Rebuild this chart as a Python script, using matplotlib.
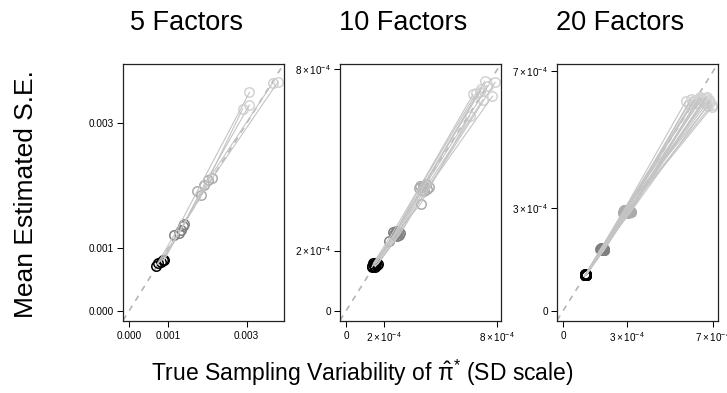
import matplotlib
matplotlib.use("Agg")
import matplotlib.pyplot as plt
from matplotlib.ticker import FixedLocator, FixedFormatter

plt.rcParams['font.family'] = ['Liberation Sans', 'DejaVu Sans']
plt.rcParams['mathtext.fontset'] = 'custom'
plt.rcParams['mathtext.rm'] = 'Liberation Sans'
plt.rcParams['mathtext.it'] = 'Liberation Sans:italic'
plt.rcParams['mathtext.bf'] = 'Liberation Sans:bold'
plt.rcParams['mathtext.sf'] = 'Liberation Sans'

# ---------------- data ----------------
titles = ["5 Factors", "10 Factors", "20 Factors"]
level_colors = ["#d3d3d3", "#ababab", "#808080", "#000000"]  # smallest n -> largest n

# Panel 1 (5 factors): true SD (x) and mean estimated SE (y), per sample-size level
p1_x_l1 = [0.00307, 0.00290, 0.00307, 0.00366, 0.00380]
p1_x_l2 = [0.00174, 0.00183, 0.00191, 0.00202, 0.00212]
p1_x_l3 = [0.00115, 0.00128, 0.00132, 0.00137, 0.00140]
p1_x_l4 = [0.00069, 0.00075, 0.00082, 0.00088, 0.00090]
p1_y_l1 = [0.00349, 0.00323, 0.00329, 0.00364, 0.00366]
p1_y_l2 = [0.00191, 0.00185, 0.00201, 0.00209, 0.00212]
p1_y_l3 = [0.00121, 0.00125, 0.00130, 0.00135, 0.00139]
p1_y_l4 = [0.00072, 0.00076, 0.00079, 0.00081, 0.00082]

# Panel 2 (10 factors)
p2_x_l1 = [7.33e-4, 7.88e-4, 6.89e-4, 7.24e-4, 7.74e-4, 6.54e-4, 6.72e-4, 7.16e-4, 7.50e-4, 7.07e-4]
p2_x_l2 = [4.05e-4, 4.38e-4, 3.88e-4, 4.12e-4, 4.30e-4, 3.95e-4, 3.92e-4, 4.08e-4, 4.22e-4, 4.00e-4]
p2_x_l3 = [2.62e-4, 2.88e-4, 2.55e-4, 2.70e-4, 2.82e-4, 2.30e-4, 2.50e-4, 2.65e-4, 2.76e-4, 2.58e-4]
p2_x_l4 = [1.48e-4, 1.68e-4, 1.40e-4, 1.55e-4, 1.62e-4, 1.36e-4, 1.45e-4, 1.52e-4, 1.60e-4, 1.50e-4]
p2_y_l1 = [7.60e-4, 7.57e-4, 7.22e-4, 7.00e-4, 7.11e-4, 6.46e-4, 7.17e-4, 7.35e-4, 7.44e-4, 7.26e-4]
p2_y_l2 = [4.10e-4, 4.12e-4, 4.06e-4, 3.98e-4, 4.05e-4, 3.55e-4, 4.13e-4, 4.15e-4, 4.20e-4, 4.02e-4]
p2_y_l3 = [2.60e-4, 2.58e-4, 2.55e-4, 2.48e-4, 2.52e-4, 2.31e-4, 2.62e-4, 2.64e-4, 2.60e-4, 2.50e-4]
p2_y_l4 = [1.55e-4, 1.55e-4, 1.50e-4, 1.47e-4, 1.52e-4, 1.44e-4, 1.58e-4, 1.57e-4, 1.59e-4, 1.50e-4]

# Panel 3 (20 factors)
p3_x_l1 = [5.72e-4, 5.95e-4, 6.38e-4, 6.05e-4, 6.62e-4, 6.81e-4, 6.22e-4, 6.49e-4, 6.93e-4, 6.15e-4,
           6.70e-4, 5.88e-4, 6.55e-4, 6.30e-4, 6.77e-4, 6.44e-4, 6.08e-4, 6.86e-4, 6.60e-4, 6.95e-4]
p3_x_l2 = [2.80e-4, 2.95e-4, 3.10e-4, 2.85e-4, 3.05e-4, 2.90e-4, 3.18e-4, 2.78e-4, 3.00e-4, 2.92e-4,
           3.12e-4, 2.88e-4, 2.98e-4, 3.08e-4, 2.83e-4, 3.02e-4, 2.94e-4, 3.15e-4, 2.86e-4, 2.97e-4]
p3_x_l3 = [1.75e-4, 1.80e-4, 1.88e-4, 1.78e-4, 1.92e-4, 1.83e-4, 1.76e-4, 1.86e-4, 1.81e-4, 1.90e-4,
           1.79e-4, 1.85e-4, 1.77e-4, 1.89e-4, 1.82e-4, 1.84e-4, 1.93e-4, 1.80e-4, 1.87e-4, 1.78e-4]
p3_x_l4 = [1.04e-4, 1.06e-4, 1.08e-4, 1.05e-4, 1.07e-4, 1.03e-4, 1.09e-4, 1.06e-4, 1.05e-4, 1.07e-4,
           1.04e-4, 1.08e-4, 1.06e-4, 1.05e-4, 1.07e-4, 1.06e-4, 1.04e-4, 1.08e-4, 1.05e-4, 1.07e-4]
p3_y_l1 = [6.12e-4, 6.18e-4, 6.25e-4, 6.10e-4, 6.22e-4, 6.15e-4, 6.08e-4, 6.20e-4, 6.02e-4, 6.16e-4,
           6.24e-4, 6.05e-4, 6.13e-4, 6.19e-4, 6.00e-4, 6.21e-4, 6.14e-4, 6.11e-4, 6.06e-4, 5.96e-4]
p3_y_l2 = [2.90e-4, 2.92e-4, 2.88e-4, 2.95e-4, 2.86e-4, 2.93e-4, 2.90e-4, 2.87e-4, 2.96e-4, 2.89e-4,
           2.92e-4, 2.94e-4, 2.88e-4, 2.91e-4, 2.93e-4, 2.87e-4, 2.95e-4, 2.89e-4, 2.92e-4, 2.90e-4]
p3_y_l3 = [1.80e-4, 1.82e-4, 1.79e-4, 1.81e-4, 1.78e-4, 1.83e-4, 1.80e-4, 1.81e-4, 1.84e-4, 1.79e-4,
           1.82e-4, 1.80e-4, 1.83e-4, 1.78e-4, 1.81e-4, 1.82e-4, 1.80e-4, 1.79e-4, 1.83e-4, 1.81e-4]
p3_y_l4 = [1.05e-4, 1.06e-4, 1.04e-4, 1.07e-4, 1.05e-4, 1.06e-4, 1.04e-4, 1.05e-4, 1.07e-4, 1.06e-4,
           1.05e-4, 1.04e-4, 1.06e-4, 1.05e-4, 1.07e-4, 1.04e-4, 1.06e-4, 1.05e-4, 1.06e-4, 1.05e-4]

p1_xticks = [0.0, 0.001, 0.003]
p1_xticklabels = ["0.000", "0.001", "0.003"]
p1_yticks = [0.0, 0.001, 0.003]
p1_yticklabels = ["0.000", "0.001", "0.003"]
p2_xticks = [0.0, 2e-4, 8e-4]
p2_xticklabels = ["0", r"$2\times10^{-4}$", r"$8\times10^{-4}$"]
p2_yticks = [0.0, 2e-4, 8e-4]
p2_yticklabels = ["0", r"$2\times10^{-4}$", r"$8\times10^{-4}$"]
p3_xticks = [0.0, 3e-4, 7e-4]
p3_xticklabels = ["0", r"$3\times10^{-4}$", r"$7\times10^{-4}$"]
p3_yticks = [0.0, 3e-4, 7e-4]
p3_yticklabels = ["0", r"$3\times10^{-4}$", r"$7\times10^{-4}$"]

panels = [
    dict(xs=[p1_x_l1, p1_x_l2, p1_x_l3, p1_x_l4], ys=[p1_y_l1, p1_y_l2, p1_y_l3, p1_y_l4],
         xt=p1_xticks, xtl=p1_xticklabels, yt=p1_yticks, ytl=p1_yticklabels),
    dict(xs=[p2_x_l1, p2_x_l2, p2_x_l3, p2_x_l4], ys=[p2_y_l1, p2_y_l2, p2_y_l3, p2_y_l4],
         xt=p2_xticks, xtl=p2_xticklabels, yt=p2_yticks, ytl=p2_yticklabels),
    dict(xs=[p3_x_l1, p3_x_l2, p3_x_l3, p3_x_l4], ys=[p3_y_l1, p3_y_l2, p3_y_l3, p3_y_l4],
         xt=p3_xticks, xtl=p3_xticklabels, yt=p3_yticks, ytl=p3_yticklabels),
]

# ---------------- figure ----------------
W, H = 727, 393
fig = plt.figure(figsize=(W / 100, H / 100), dpi=100)

lefts = [123, 340, 557]
top_px, bot_px, width_px = 63.5, 320.5, 161
title_x = [187, 403.5, 620]

for k, (p, lx) in enumerate(zip(panels, lefts)):
    ax = fig.add_axes([lx / W, 1 - bot_px / H, width_px / W, (bot_px - top_px) / H])
    allv = [v for arr in p["xs"] + p["ys"] for v in arr]
    hi = max(allv)
    pad = 0.04 * hi
    ax.set_xlim(-pad, hi + pad)
    ax.set_ylim(-pad, hi + pad)

    ax.axline((0, 0), slope=1, color="#b5b5b5", lw=1.2, ls=(0, (3.5, 3.5)), zorder=1)

    # points
    for lev in range(4):
        ax.plot(p["xs"][lev], p["ys"][lev], ls="none", marker="o", ms=6.8,
                mfc="none", mec=level_colors[lev], mew=1.1, zorder=2)
    # lines connecting levels for each factor
    n = len(p["xs"][0])
    for i in range(n):
        xx = [p["xs"][lev][i] for lev in range(4)]
        yy = [p["ys"][lev][i] for lev in range(4)]
        ax.plot(xx, yy, color="#c4c4c4", lw=0.8, zorder=3)

    ax.xaxis.set_major_locator(FixedLocator(p["xt"]))
    ax.xaxis.set_major_formatter(FixedFormatter(p["xtl"]))
    ax.yaxis.set_major_locator(FixedLocator(p["yt"]))
    ax.yaxis.set_major_formatter(FixedFormatter(p["ytl"]))
    ax.tick_params(axis="both", direction="out", length=4.3, width=0.75,
                   labelsize=7.2, colors="black")
    ax.tick_params(axis="x", pad=3)
    ax.tick_params(axis="y", pad=2)
    for s in ax.spines.values():
        s.set_linewidth(0.9)
        s.set_color("#222222")

    fig.text(title_x[k] / W, 1 - 30 / H, titles[k], fontsize=19.5,
             ha="center", va="baseline")

fig.text(26 / W, 1 - 194 / H, "Mean Estimated S.E.", fontsize=19, rotation=90,
         ha="center", va="center")
fig.text(362 / W, 1 - 381 / H, r"True Sampling Variability of $\hat{\mathrm{\pi}}^{*}$ (SD scale)",
         fontsize=16.5, ha="center", va="baseline")

fig.savefig("out.png", dpi=100)
